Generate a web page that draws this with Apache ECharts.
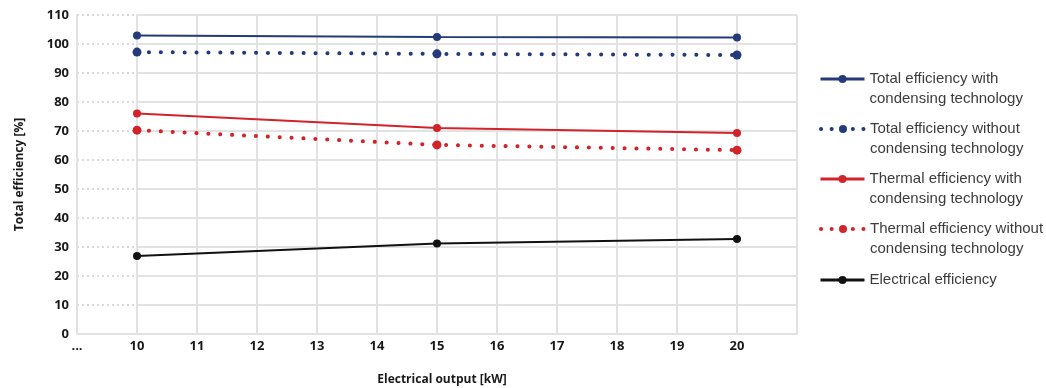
<!DOCTYPE html>
<html><head><meta charset="utf-8">
<script src="https://cdn.jsdelivr.net/npm/echarts@6/dist/echarts.min.js"></script>
<style>html,body{margin:0;padding:0;background:#fff}#c{width:1046px;height:388px}</style>
</head><body><div id="c"></div>
<script>
const outputs = [10, 15, 20];
const totalWith = [102.9, 102.4, 102.2];
const totalWithout = [97.2, 96.6, 96.2];
const thermalWith = [76.0, 71.0, 69.3];
const thermalWithout = [70.3, 65.2, 63.4];
const electrical = [26.9, 31.2, 32.8];
const seriesNames = [
  'Total efficiency with\ncondensing technology',
  'Total efficiency without\ncondensing technology',
  'Thermal efficiency with\ncondensing technology',
  'Thermal efficiency without\ncondensing technology',
  'Electrical efficiency'
];
const seriesValues = [totalWith, totalWithout, thermalWith, thermalWithout, electrical];
const seriesColors = ['#243a7a', '#243a7a', '#d2232a', '#d2232a', '#111111'];
const seriesDotted = [false, true, false, true, false];
const yTicks = {min: 0, max: 110, interval: 10};
const xTicks = {min: 10, max: 21, interval: 1};

const gridColor = '#e2e2e2';
const labelFont = {color: '#1a1a1a', fontSize: 13, fontWeight: 'bold', fontFamily: 'Open Sans'};

const series = seriesNames.map((name, i) => ({
  name: name,
  type: 'line',
  xAxisIndex: 1, yAxisIndex: 1,
  data: outputs.map((x, j) => [x, seriesValues[i][j]]),
  symbol: 'circle',
  symbolSize: seriesDotted[i] ? 9 : 8,
  showSymbol: true,
  itemStyle: {color: seriesColors[i]},
  lineStyle: seriesDotted[i]
    ? {color: seriesColors[i], width: 4, type: [0.1, 11.8], cap: 'round'}
    : {color: seriesColors[i], width: 2},
  emphasis: {disabled: true},
  animation: false
}));

const legendIconY = [80, 130, 180, 230, 280];
const legends = seriesNames.map((name, i) => {
  const twoLine = name.indexOf('\n') >= 0;
  const lg = {
    data: [name],
    orient: 'vertical',
    left: 819,
    top: legendIconY[i] - (twoLine ? 31 : 10),
    padding: 0,
    itemWidth: 44,
    itemHeight: 10,
    itemGap: 0,
    selectedMode: false,
    formatter: n => twoLine ? '\n' + n : n,
    textStyle: {fontSize: 15, lineHeight: 20, color: '#3c3c3c', fontFamily: 'Liberation Sans'}
  };
  if (seriesDotted[i]) {
    lg.lineStyle = {width: 4, type: [0.1, 10.5], cap: 'round'};
  } else {
    lg.lineStyle = {width: 3};
  }
  return lg;
});

const option = {
  animation: false,
  legend: legends,
  grid: [
    {left: 77, top: 15, width: 60, bottom: 54},
    {left: 137, top: 15, right: 249, bottom: 54}
  ],
  title: {
    text: 'Electrical output [kW]',
    left: 437, top: 369, textAlign: 'center',
    textStyle: {fontSize: 12, fontWeight: 'bold', color: '#1a1a1a', fontFamily: 'Open Sans'}
  },
  xAxis: [
    {type: 'value', gridIndex: 0, min: 9, max: 10, interval: 1,
     axisLine: {show: true, lineStyle: {color: gridColor, width: 2}},
     axisTick: {show: false}, splitLine: {show: false},
     axisLabel: Object.assign({margin: 6, formatter: v => v === 9 ? '...' : ''}, labelFont)},
    {type: 'value', gridIndex: 1, min: xTicks.min, max: xTicks.max, interval: xTicks.interval,
     axisLine: {show: true, lineStyle: {color: gridColor, width: 2}},
     axisTick: {show: false},
     splitLine: {show: true, lineStyle: {color: gridColor, width: 2}},
     axisLabel: Object.assign({margin: 6, formatter: v => v === xTicks.max ? '' : String(v)}, labelFont)}
  ],
  yAxis: [
    {type: 'value', gridIndex: 0, min: yTicks.min, max: yTicks.max, interval: yTicks.interval,
     name: 'Total efficiency [%]', nameLocation: 'middle', nameGap: 51,
     nameTextStyle: {fontSize: 12, fontWeight: 'bold', color: '#1a1a1a', fontFamily: 'Open Sans'},
     axisLine: {show: true, lineStyle: {color: gridColor, width: 2}},
     axisTick: {show: false},
     splitLine: {show: true, lineStyle: {color: '#dadada', width: 2, type: [2, 3]}},
     axisLabel: Object.assign({margin: 8}, labelFont)},
    {type: 'value', gridIndex: 1, min: yTicks.min, max: yTicks.max, interval: yTicks.interval,
     axisLine: {show: true, lineStyle: {color: gridColor, width: 2}},
     axisTick: {show: false}, axisLabel: {show: false},
     splitLine: {show: true, lineStyle: {color: gridColor, width: 2}}}
  ],
  series: series
};
const chart = echarts.init(document.getElementById('c'));
chart.setOption(option);
</script></body></html>
